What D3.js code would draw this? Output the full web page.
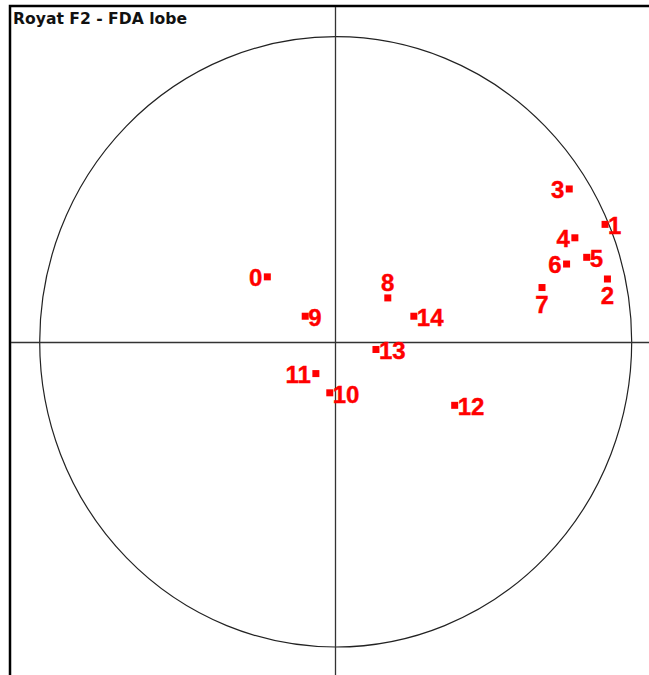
<!DOCTYPE html>
<html>
<head>
<meta charset="utf-8">
<script src="https://cdn.jsdelivr.net/npm/d3@7"></script>
<style>
  html, body { margin: 0; padding: 0; background: #fff; }
  svg { display: block; }
  .point-label { font-family: "Liberation Sans", Arial, sans-serif; font-weight: bold; font-size: 24px; fill: #ff0000; }
  .title { font-family: "DejaVu Sans", Verdana, sans-serif; font-weight: bold; font-size: 15.6px; fill: #111; }
</style>
</head>
<body>
<div id="chart"></div>
<script>
// ── Data (unit-circle coordinates) ──────────────────────────────
const labels = ["0","1","2","3","4","5","6","7","8","9","10","11","12","13","14"];
const xVals  = [-0.231, 0.910, 0.918, 0.789, 0.808, 0.848, 0.780, 0.697, 0.176, -0.103, -0.020, -0.067, 0.402, 0.136, 0.264];
const yVals  = [ 0.213, 0.385, 0.206, 0.501, 0.341, 0.277, 0.255, 0.178, 0.144,  0.084, -0.167, -0.104, -0.208, -0.025, 0.084];
// which side of the marker each label sits on
const labelSide = ["l","r","b","l","l","r","l","b","t","r","r","l","r","r","r"];
const title = "Royat F2 - FDA lobe";

// ── Dimensions ──────────────────────────────────────────────────
const W = 649, H = 675;
const FRAME = { left: 10, top: 6 };

const svg = d3.select("#chart").append("svg")
  .attr("width", W).attr("height", H);

// Scales: unit circle fills the plot (slightly taller than wide, as in reference)
const x = d3.scaleLinear().domain([-1, 1]).range([39.7, 631.7]);
const y = d3.scaleLinear().domain([-1, 1]).range([647, 36.7]);

// Frame (left + top edges only)
svg.append("path")
  .attr("d", `M${FRAME.left},${H} V${FRAME.top} H${W}`)
  .attr("fill", "none")
  .attr("stroke", "#000")
  .attr("stroke-width", 2.5);

// Correlation circle
svg.append("ellipse")
  .attr("cx", x(0)).attr("cy", y(0))
  .attr("rx", x(1) - x(0)).attr("ry", y(-1) - y(0))
  .attr("fill", "none")
  .attr("stroke", "#222")
  .attr("stroke-width", 1.2);

// Axes through origin
svg.append("line")
  .attr("x1", FRAME.left + 1).attr("x2", W)
  .attr("y1", Math.round(y(0)) + 0.5).attr("y2", Math.round(y(0)) + 0.5)
  .attr("stroke", "#333").attr("stroke-width", 1.3);
svg.append("line")
  .attr("x1", Math.round(x(0)) - 0.5).attr("x2", Math.round(x(0)) - 0.5)
  .attr("y1", FRAME.top + 1).attr("y2", H)
  .attr("stroke", "#333").attr("stroke-width", 1.3);

// Title
svg.append("text").attr("class", "title")
  .attr("x", 13).attr("y", 24)
  .text(title);

// Points
const pts = labels.map((l, i) => ({ label: l, x: xVals[i], y: yVals[i], side: labelSide[i] }));
const SQ = 7;

const g = svg.append("g");
g.selectAll("rect.pt").data(pts).enter()
  .append("rect").attr("class", "pt")
  .attr("x", d => x(d.x) - SQ / 2)
  .attr("y", d => y(d.y) - SQ / 2)
  .attr("width", SQ).attr("height", SQ)
  .attr("fill", "#ff0000");

const OFF = {
  l: { dx: -5, dy: 9,   anchor: "end" },
  r: { dx: 3,  dy: 10,  anchor: "start" },
  b: { dx: 0,  dy: 25,  anchor: "middle" },
  t: { dx: 0,  dy: -7,  anchor: "middle" }
};

g.selectAll("text.point-label").data(pts).enter()
  .append("text").attr("class", "point-label")
  .attr("x", d => x(d.x) + OFF[d.side].dx)
  .attr("y", d => y(d.y) + OFF[d.side].dy)
  .attr("text-anchor", d => OFF[d.side].anchor)
  .attr("stroke", "#ff0000").attr("stroke-width", 0.4)
  .text(d => d.label);
</script>
</body>
</html>
